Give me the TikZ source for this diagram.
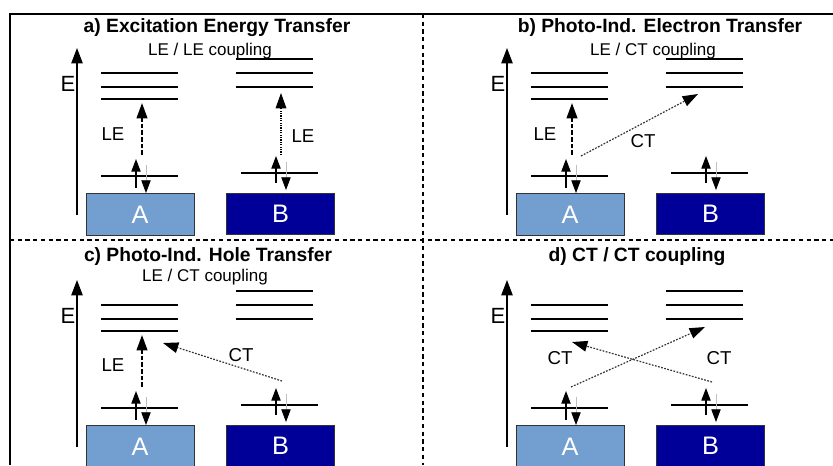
\documentclass[tikz,border=0pt]{standalone}
\usepackage{fontspec}
\setmainfont{Liberation Sans}
\usetikzlibrary{arrows.meta}
\definecolor{boxA}{HTML}{729FCF}
\definecolor{boxB}{HTML}{000099}
\definecolor{boxedge}{HTML}{333333}
\tikzset{
  frameline/.style={line width=1.5pt},
  divider/.style={line width=2pt, dash pattern=on 3.2pt off 2.6pt},
  level/.style={line width=1.5pt},
  axis/.style={line width=1pt, -{Triangle[length=11.5pt,width=8.5pt]}},
  lebig/.style={line width=1.5pt, dash pattern=on 3.5pt off 1.5pt, -{Triangle[length=11.5pt,width=8pt]}},
  lesmall/.style={line width=0.9pt, dash pattern=on 0.9pt off 0.9pt, -{Triangle[length=11.5pt,width=8pt]}},
  ctarrow/.style={line width=0.9pt, draw=black!80, dash pattern=on 1.3pt off 1.1pt, -{Triangle[length=11.5pt,width=8pt,color=black]}},
  spinup/.style={line width=0.8pt, -{Triangle[length=9.5pt,width=7pt]}},
  spindown/.style={line width=0.6pt, draw=black!25, -{Triangle[length=9.5pt,width=7pt,color=black]}},
  molA/.style={draw=boxedge, fill=boxA, line width=0.75pt, text=white, font=\fontsize{19}{19}\selectfont, minimum width=81pt, minimum height=31pt, inner sep=0pt},
  molB/.style={molA, fill=boxB},
  titletext/.style={font=\bfseries\fontsize{14.45}{15}\selectfont, anchor=base},
  subtext/.style={font=\fontsize{12.75}{13}\selectfont, anchor=base},
  elabel/.style={font=\fontsize{16.5}{17}\selectfont, anchor=base},
  tlabel/.style={font=\fontsize{14}{14}\selectfont, anchor=base},
}
\newcommand\panelbase[3]{%
  \begin{scope}[shift={(#2,#3)}]
    \coordinate (#1axb) at (77,215);
    \coordinate (#1axt) at (77,48);
    \draw[axis] (#1axb) -- (#1axt);
    \node[elabel] (#1E) at (68,91) {E};
    % levels of A
    \coordinate (#1Aa1) at (101,73);  \coordinate (#1Ab1) at (178,73);
    \coordinate (#1Aa2) at (101,87);  \coordinate (#1Ab2) at (178,87);
    \coordinate (#1Aa3) at (101,99);  \coordinate (#1Ab3) at (178,99);
    \coordinate (#1Aa0) at (101,176); \coordinate (#1Ab0) at (178,176);
    \draw[level] (#1Aa1) -- (#1Ab1);
    \draw[level] (#1Aa2) -- (#1Ab2);
    \draw[level] (#1Aa3) -- (#1Ab3);
    \draw[level] (#1Aa0) -- (#1Ab0);
    % levels of B
    \coordinate (#1Ba1) at (236,59);  \coordinate (#1Bb1) at (313,59);
    \coordinate (#1Ba2) at (236,73);  \coordinate (#1Bb2) at (313,73);
    \coordinate (#1Ba3) at (236,87);  \coordinate (#1Bb3) at (313,87);
    \coordinate (#1Ba0) at (241,173); \coordinate (#1Bb0) at (318,173);
    \draw[level] (#1Ba1) -- (#1Bb1);
    \draw[level] (#1Ba2) -- (#1Bb2);
    \draw[level] (#1Ba3) -- (#1Bb3);
    \draw[level] (#1Ba0) -- (#1Bb0);
    % spins
    \coordinate (#1Asu0) at (136,188); \coordinate (#1Asu1) at (136,159);
    \coordinate (#1Asd0) at (146,165); \coordinate (#1Asd1) at (146,193);
    \coordinate (#1Bsu0) at (276,183); \coordinate (#1Bsu1) at (276,156);
    \coordinate (#1Bsd0) at (286,162); \coordinate (#1Bsd1) at (286,190);
    \draw[spinup] (#1Asu0) -- (#1Asu1);
    \draw[spindown] (#1Asd0) -- (#1Asd1);
    \draw[spinup] (#1Bsu0) -- (#1Bsu1);
    \draw[spindown] (#1Bsd0) -- (#1Bsd1);
    % molecules
    \node[molA] (#1A) at (140,214.5) {A};
    \node[molB] (#1B) at (280.5,214) {B};
  \end{scope}}
\begin{document}
\begin{tikzpicture}[x=0.75pt, y=-0.75pt]
\useasboundingbox (0,0) rectangle (833,465);
% frame and dividers
\coordinate (fbl) at (10,465); \coordinate (ftl) at (10,14); \coordinate (ftr) at (833,14);
\draw[frameline] (fbl) -- (ftl) -- (ftr);
\coordinate (dvt) at (423,14); \coordinate (dvb) at (423,465);
\coordinate (dhl) at (10,240); \coordinate (dhr) at (833,240);
\draw[divider] (dvt) -- (dvb);
\draw[divider] (dhl) -- (dhr);

% titles
\node[titletext] (ta) at (217,32) {a) Excitation Energy Transfer};
\node[subtext] (sa) at (210,55) {LE / LE coupling};
\node[titletext] (tb) at (660,32) {b) Photo-Ind. Electron Transfer};
\node[subtext] (sb) at (653,55) {LE / CT coupling};
\node[titletext] (tc) at (208,261) {c) Photo-Ind. Hole Transfer};
\node[subtext] (sc) at (205,281) {LE / CT coupling};
\node[titletext] (td) at (637,261) {d) CT / CT coupling};

% panel a
\panelbase{a}{0}{0}
\coordinate (aLE0) at (142,155); \coordinate (aLE1) at (142,103);
\draw[lebig] (aLE0) -- (aLE1);
\node[tlabel] (aLEl) at (113,140) {LE};
\coordinate (aLB0) at (281,155); \coordinate (aLB1) at (281,93);
\draw[lesmall] (aLB0) -- (aLB1);
\node[tlabel] (aLBl) at (303,142) {LE};

% panel b
\panelbase{b}{430}{0}
\coordinate (bLE0) at (572,155); \coordinate (bLE1) at (572,103);
\draw[lebig] (bLE0) -- (bLE1);
\node[tlabel] (bLEl) at (545,140) {LE};
\coordinate (bCT0) at (581,156); \coordinate (bCT1) at (698,94);
\draw[ctarrow] (bCT0) -- (bCT1);
\node[tlabel] (bCTl) at (643,147) {CT};

% panel c
\panelbase{c}{0}{232}
\coordinate (cLE0) at (142,387); \coordinate (cLE1) at (142,335);
\draw[lebig] (cLE0) -- (cLE1);
\node[tlabel] (cLEl) at (113,371) {LE};
\coordinate (cCT0) at (282,381); \coordinate (cCT1) at (163,343);
\draw[ctarrow] (cCT0) -- (cCT1);
\node[tlabel] (cCTl) at (241,361) {CT};

% panel d
\panelbase{d}{430}{232}
\coordinate (dCT0) at (571,387); \coordinate (dCT1) at (705,327);
\draw[ctarrow] (dCT0) -- (dCT1);
\coordinate (dCU0) at (712,382); \coordinate (dCU1) at (572,342);
\draw[ctarrow] (dCU0) -- (dCU1);
\node[tlabel] (dCTl) at (560,364) {CT};
\node[tlabel] (dCUl) at (719,364) {CT};
\end{tikzpicture}
\end{document}
